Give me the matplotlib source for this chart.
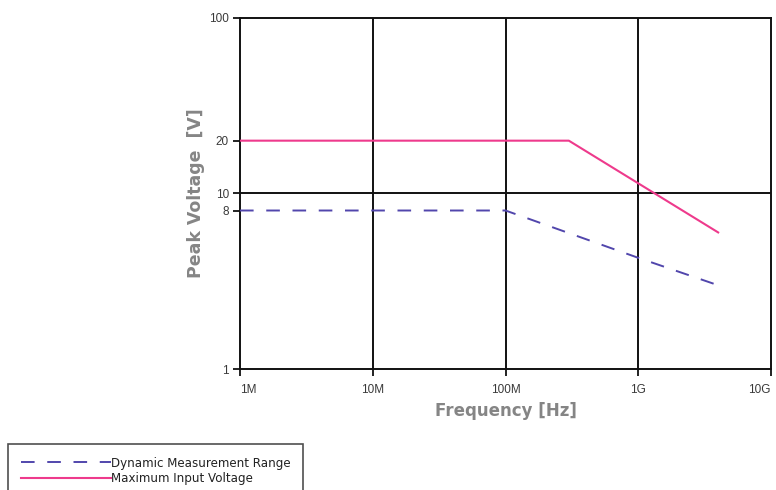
import numpy as np
import matplotlib.pyplot as plt
from matplotlib.ticker import FixedLocator, NullLocator

# data
dyn_freq = [1e6, 1e8, 1e9, 4e9]
dyn_volt = [8, 8, 4.3, 3.0]
max_freq = [1e6, 3e8, 4e9]
max_volt = [20, 20, 6.0]

x_ticks = [1e6, 1e7, 1e8, 1e9, 1e10]
x_labels = ["1M", "10M", "100M", "1G", "10G"]
y_ticks = [1, 8, 10, 20, 100]
y_labels = ["1", "8", "10", "20", "100"]

plt.rcParams['font.family'] = ['Liberation Sans', 'DejaVu Sans']

fig = plt.figure(figsize = (7.76, 4.9), dpi = 100)
ax = fig.add_axes([240 / 776, 1 - 369 / 490, 531 / 776, 351 / 490])

ax.set_xscale("log")
ax.set_yscale("log")
ax.set_xlim(1e6, 1e10)
ax.set_ylim(1, 100)

# grid: decades in x, only 10 in y
for xv in x_ticks[1:-1]:
    ax.axvline(xv, color = "#111111", lw = 1.4, zorder = 1)
ax.axhline(10, color = "#111111", lw = 1.4, zorder = 1)

ax.plot(dyn_freq, dyn_volt, color = "#5146ac", lw = 1.4, dashes = (7, 6.5),
        label = "Dynamic Measurement Range", zorder = 3)
ax.plot(max_freq, max_volt, color = "#ee3a8c", lw = 1.5,
        label = "Maximum Input Voltage", zorder = 3)

ax.xaxis.set_major_locator(FixedLocator(x_ticks))
ax.xaxis.set_minor_locator(NullLocator())
ax.set_xticklabels(x_labels)
ax.yaxis.set_major_locator(FixedLocator(y_ticks))
ax.yaxis.set_minor_locator(NullLocator())
ax.set_yticklabels(y_labels)
ax.tick_params(length = 5, width = 1.3, labelsize = 8.5, colors = "#111111",
               labelcolor = "#3a3a3a", pad = 3)
ax.tick_params(axis = "x", pad = 6)
xl = ax.get_xticklabels()
xl[0].set_horizontalalignment("left")
xl[-1].set_horizontalalignment("right")

for s in ax.spines.values():
    s.set_linewidth(1.4)
    s.set_color("#111111")

ax.set_xlabel("Frequency [Hz]", fontsize = 12, fontweight = "bold", color = "#858585",
              labelpad = 4, family = "DejaVu Sans")
ax.set_ylabel("Peak Voltage  [V]", fontsize = 12.5, fontweight = "bold", color = "#858585",
              labelpad = 3, family = "DejaVu Sans")

leg = ax.legend(loc = "upper left", bbox_to_anchor = (8 / 776, 1 - 444 / 490),
                bbox_transform = fig.transFigure, handlelength = 7.6,
                handletextpad = 0.0, frameon = True, fancybox = False,
                borderpad = 1.05, labelspacing = 0.2, borderaxespad = 0,
                prop = {"family": "DejaVu Sans", "size": 8.6})
leg.get_frame().set_edgecolor("#222222")
leg.get_frame().set_linewidth(1.2)
for t in leg.get_texts():
    t.set_color("#222222")

plt.savefig("out.png", dpi = 100)
